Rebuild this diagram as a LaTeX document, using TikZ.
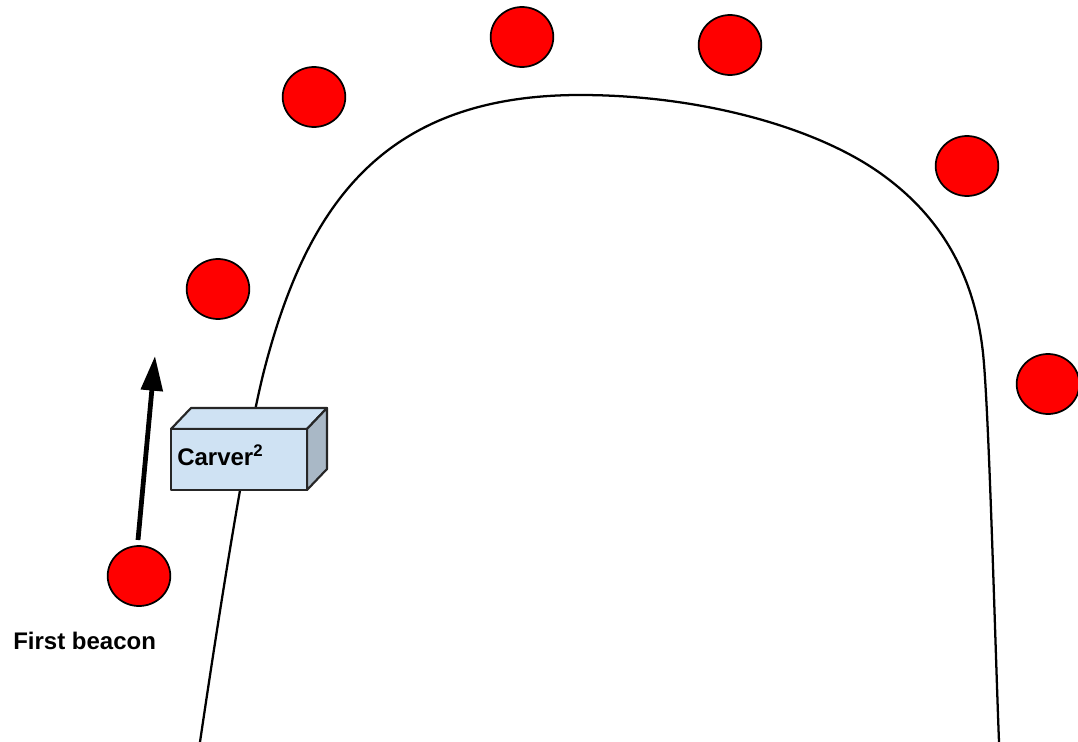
\documentclass[tikz,border=0pt]{standalone}
\usepackage{fontspec}
\setmainfont{Liberation Sans}
\usetikzlibrary{arrows.meta,calc,shapes.geometric}
\definecolor{beaconred}{HTML}{FF0000}
\definecolor{boxfront}{HTML}{CFE2F3}
\definecolor{boxside}{HTML}{A9B8C6}
\tikzset{
  beacon/.style={draw=black, line width=1.3pt, fill=beaconred, ellipse, minimum width=47pt, minimum height=45pt, inner sep=0pt},
  lbl/.style={font=\bfseries\fontsize{18}{20}\selectfont, inner sep=0pt, anchor=base west},
  track/.style={line width=1.7pt, line join=round},
  boxface/.style={draw=black!85, line width=1.6pt, line join=round},
}
\begin{document}
\begin{tikzpicture}[x=0.75pt,y=-0.75pt]
\useasboundingbox (0,0) rectangle (1078,742);
\fill[white] (0,0) rectangle (1078,742);
% track
\coordinate (t0) at (200,742);
\coordinate (t1) at (265,367);
\coordinate (t2) at (580,95);
\coordinate (t3) at (880,173);
\coordinate (t4) at (983,353);
\coordinate (t5) at (999,742);
\draw[track] (t0) .. controls (211.7,663) and (244.6,444) .. (t1)
  .. controls (308,203) and (385,95) .. (t2)
  .. controls (700,95) and (815,127) .. (t3)
  .. controls (945,219) and (975,280) .. (t4)
  .. controls (989,410) and (995,640) .. (t5);
% beacons
\node[beacon] (b1) at (139,576) {};
\node[beacon] (b2) at (218,289) {};
\node[beacon] (b3) at (314,97) {};
\node[beacon] (b4) at (522,37) {};
\node[beacon] (b5) at (730,45) {};
\node[beacon] (b6) at (967,166) {};
\node[beacon] (b7) at (1048,384) {};
% arrow
\coordinate (as) at (138,540);
\coordinate (ae) at (155,356);
\draw[line width=3.6pt, -{Triangle[length=26pt,width=16pt]}] (as) -- (ae);
% box
\coordinate (f1) at (171,429);
\coordinate (f2) at (307,429);
\coordinate (f3) at (307,490);
\coordinate (f4) at (171,490);
\coordinate (d) at (20,-21);
\draw[boxface, fill=boxfront] (f1) -- ($(f1)+(d)$) -- ($(f2)+(d)$) -- (f2) -- cycle;
\draw[boxface, fill=boxside] (f2) -- ($(f2)+(d)$) -- ($(f3)+(d)$) -- (f3) -- cycle;
\draw[boxface, fill=boxfront] (f1) rectangle (f3);
\node[lbl] (carver) at (177,465) {Carver\textsuperscript{2}};
\node[lbl] (first) at (13,649) {First beacon};
\end{tikzpicture}
\end{document}
